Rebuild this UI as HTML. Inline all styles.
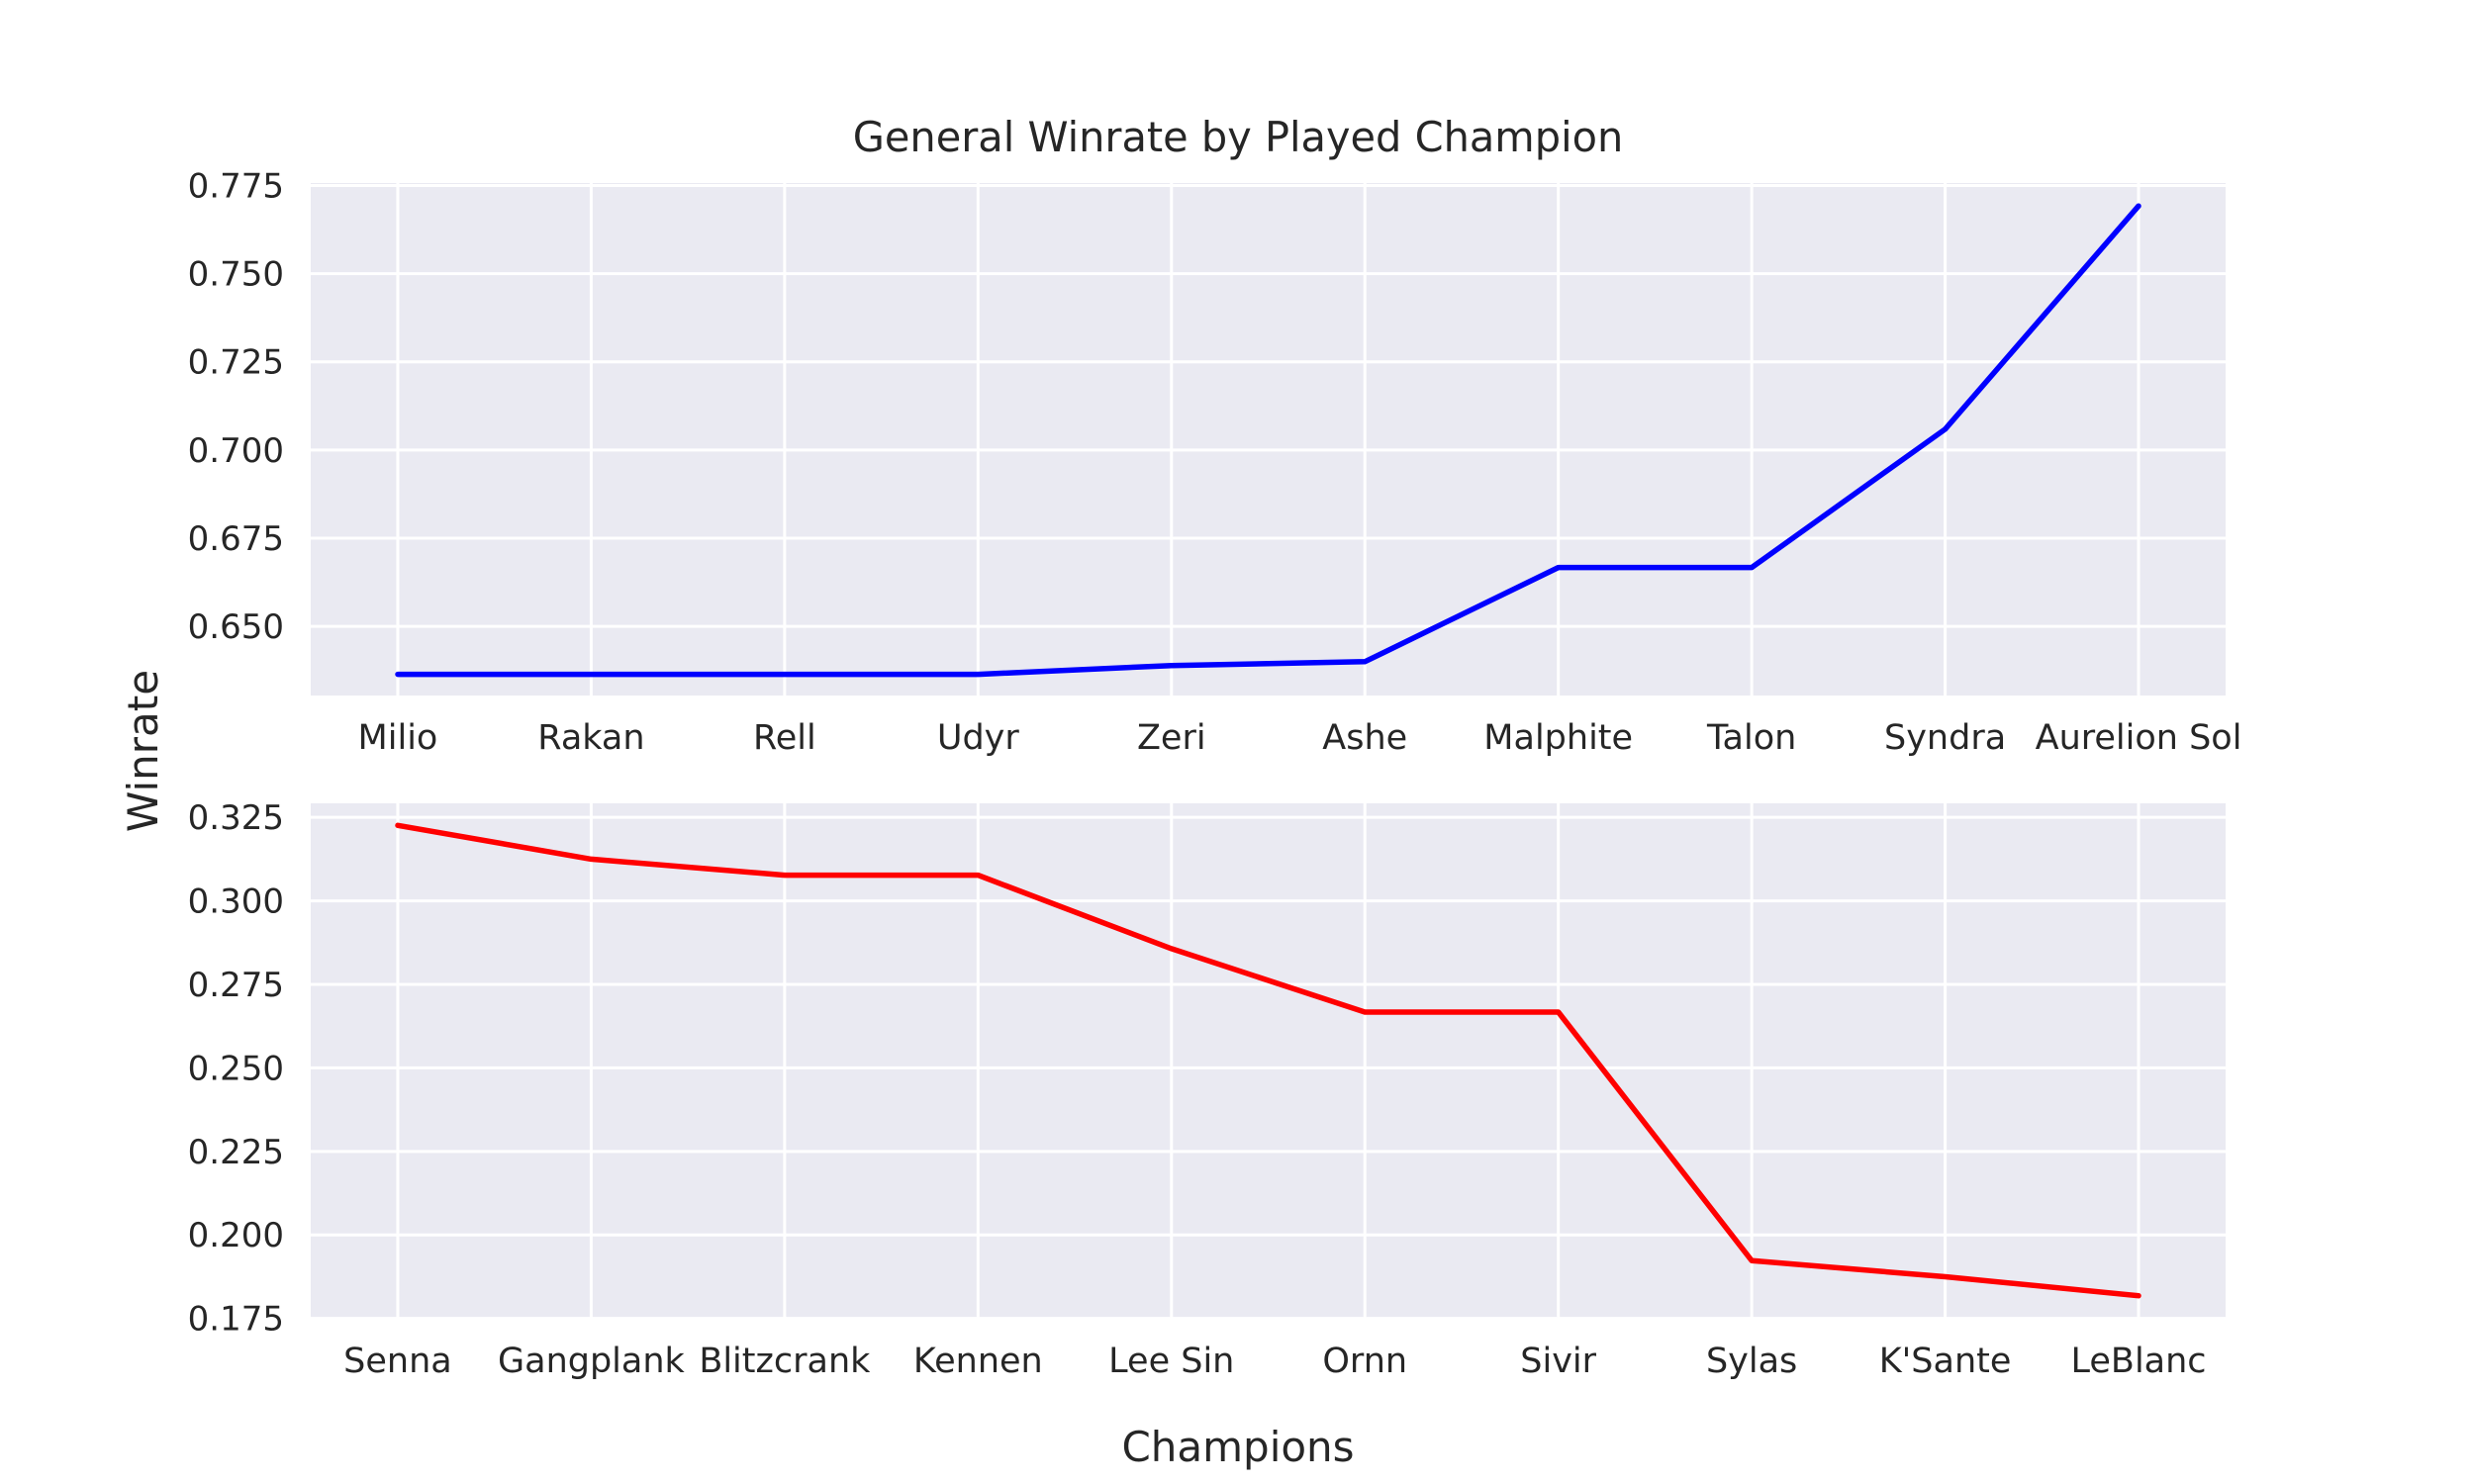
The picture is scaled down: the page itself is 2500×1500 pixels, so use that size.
<!DOCTYPE html>
<html><head><meta charset="utf-8"><style>
html,body{margin:0;padding:0;background:#fff;}
svg{display:block;font-family:"DejaVu Sans","Liberation Sans",sans-serif;}
</style></head><body>
<svg id="chart" width="2500" height="1500" viewBox="0 0 2500 1500" xmlns="http://www.w3.org/2000/svg">
<text x="1251" y="153" font-size="41.5" fill="#262626" text-anchor="middle">General Winrate by Played Champion</text>
<text x="1251" y="1477" font-size="42" fill="#262626" text-anchor="middle">Champions</text>
<text x="0" y="0" font-size="42" fill="#262626" text-anchor="middle" transform="translate(159,759) rotate(-90)">Winrate</text>
<g id="top"></g>
<g id="bottom"></g>
</svg>
<script>
const topCategories = ["Milio","Rakan","Rell","Udyr","Zeri","Ashe","Malphite","Talon","Syndra","Aurelion Sol"];
const topValues = [0.6364,0.6364,0.6364,0.6364,0.6389,0.6400,0.6667,0.6667,0.7059,0.7692];
const topTicks = [0.650,0.675,0.700,0.725,0.750,0.775];
const bottomCategories = ["Senna","Gangplank","Blitzcrank","Kennen","Lee Sin","Ornn","Sivir","Sylas","K'Sante","LeBlanc"];
const bottomValues = [0.3226,0.3125,0.3077,0.3077,0.2857,0.2667,0.2667,0.1923,0.1875,0.1818];
const bottomTicks = [0.175,0.200,0.225,0.250,0.275,0.300,0.325];

const NS="http://www.w3.org/2000/svg";
function mk(tag, attrs, parent){const e=document.createElementNS(NS,tag);for(const k in attrs)e.setAttribute(k,attrs[k]);parent.appendChild(e);return e;}

function panel(g, cats, vals, ticks, ymin, ymax, top, bottom, color, prefix){
  const left=314, right=2249;
  const n=cats.length, pad=0.45;
  const xs=i=>left+(i+pad)/(n-1+2*pad)*(right-left);
  const ys=v=>bottom-(v-ymin)/(ymax-ymin)*(bottom-top);
  const bg=mk('rect',{x:left,y:top,width:right-left,height:bottom-top,fill:'#EAEAF2'},g);
  
  
  ticks.forEach(t=>{
    const y=ys(t);
    if(y>=top-1&&y<=bottom+1){
      const l=mk('line',{x1:left,x2:right,y1:y,y2:y,stroke:'#fff','stroke-width':3},g);
      
      
    }
    const tx=mk('text',{x:287,y:y+12,'font-size':34,fill:'#262626','text-anchor':'end'},g);
    tx.textContent=t.toFixed(3);
    
    
  });
  cats.forEach((c,i)=>{
    const x=xs(i);
    const l=mk('line',{x1:x,x2:x,y1:top,y2:bottom,stroke:'#fff','stroke-width':3},g);
    
    
    const tx=mk('text',{x:x,y:bottom+54,'font-size':35,fill:'#262626','text-anchor':'middle'},g);
    tx.textContent=c;
    
    
  });
  const pts=vals.map((v,i)=>xs(i).toFixed(1)+','+ys(v).toFixed(1)).join(' ');
  const pl=mk('polyline',{points:pts,fill:'none',stroke:color,'stroke-width':5.5,'stroke-linejoin':'round','stroke-linecap':'round'},g);
  
  
}
panel(document.getElementById('top'), topCategories, topValues, topTicks, 0.6304, 0.7757, 185, 703, '#0000ff', 'top');
panel(document.getElementById('bottom'), bottomCategories, bottomValues, bottomTicks, 0.1749, 0.3292, 812, 1333, '#ff0000', 'bottom');
</script>
</body></html>
